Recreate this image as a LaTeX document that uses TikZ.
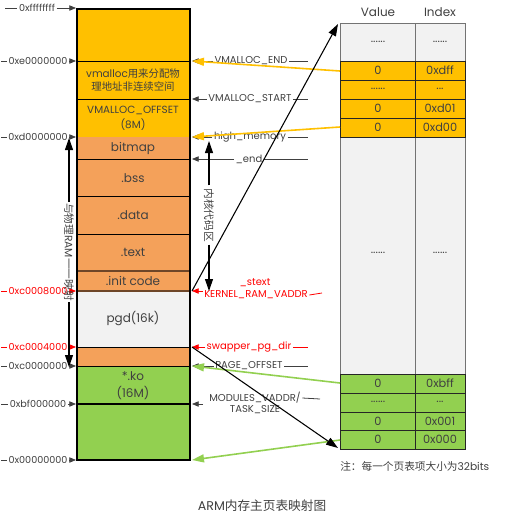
\documentclass[tikz,border=0pt]{standalone}
\usepackage{fontspec}
\setmainfont{Poppins}
\newfontfamily\cjk{Noto Sans CJK SC}
\usetikzlibrary{arrows.meta}
\definecolor{cy}{RGB}{255,192,0}
\definecolor{co}{RGB}{244,161,90}
\definecolor{cg}{RGB}{146,208,80}
\definecolor{cgr}{RGB}{242,242,242}
\definecolor{cred}{RGB}{255,0,0}
\definecolor{ctxt}{RGB}{64,64,64}
\definecolor{cbr}{RGB}{110,70,40}
\begin{document}
\begin{tikzpicture}[x=0.75pt,y=-0.75pt,
  boxlbl/.style={font=\fontsize{9}{11}\selectfont, text=ctxt, align=center, inner sep=0pt},
  boxsm/.style={boxlbl, font=\fontsize{7.8}{10}\selectfont},
  addr/.style={font=\fontsize{7.2}{8}\selectfont, text=ctxt, inner sep=1pt},
  raddr/.style={addr, text=cred},
  rl/.style={font=\fontsize{7.5}{8.5}\selectfont, text=ctxt, inner sep=1pt},
  rrl/.style={rl, text=cred},
  cell/.style={font=\fontsize{8.5}{10}\selectfont, text=ctxt, inner sep=0pt},
  sarrow/.style={-{Triangle[length=5pt,width=4pt]}, ctxt, line width=0.6pt},
  rarrow/.style={-{Triangle[length=5pt,width=4pt]}, cred, line width=0.6pt},
  barrow/.style={-{Triangle[length=9pt,width=6pt]}, black, line width=0.8pt},
  yarrow/.style={-{Triangle[length=9pt,width=6pt]}, cy, line width=1.2pt},
  garrow/.style={-{Triangle[length=9pt,width=6pt]}, cg, line width=1.2pt},
  sepl/.style={black, line width=0.6pt},
  sepb/.style={cbr, line width=0.8pt},
  tb/.style={draw=black!55, line width=0.6pt},
  tbk/.style={draw=black!85, line width=0.6pt}
]
\useasboundingbox (0,0) rectangle (522,518);

% ---------------- left memory column ----------------
\fill[cy] (77,9) rectangle (190,137);
\fill[co] (77,137) rectangle (190,291);
\fill[cgr] (77,291) rectangle (190,347);
\fill[co] (77,347) rectangle (190,366);
\fill[cg] (77,366) rectangle (190,460);
\draw[sepl] (77,61) -- (190,61);
\draw[sepl] (77,99) -- (190,99);
\draw[sepl] (77,159) -- (190,159);
\draw[sepl] (77,196) -- (190,196);
\draw[sepl] (77,234) -- (190,234);
\draw[sepb] (77,271) -- (190,271);
\draw[sepb] (77,291) -- (190,291);
\draw[sepl] (77,347) -- (190,347);
\draw[sepl] (77,366) -- (190,366);
\draw[line width=2.2pt] (77,404) -- (190,404);
\draw[line width=2.2pt] (77,9) rectangle (190,460);

\node[boxsm] (vm) at (133,80) {vmalloc{\cjk 用来分配物}\\[0pt]{\cjk 理地址非连续空间}};
\node[boxsm] (vmo) at (133,118) {VMALLOC\_OFFSET\\[1pt](8M)};
\node[boxlbl] (bm) at (133,148) {bitmap};
\node[boxlbl] (bss) at (133,178) {.bss};
\node[boxlbl] (data) at (133,215) {.data};
\node[boxlbl] (text) at (133,252) {.text};
\node[boxlbl] (init) at (133,281) {.init code};
\node[boxlbl] (pgd) at (133,319) {pgd(16k)};
\node[boxlbl] (ko) at (133,386) {*.ko\\[2pt](16M)};

% ---------------- left address labels ----------------
\coordinate (l7) at (76,8);
\coordinate (l61) at (76,61);
\coordinate (l137) at (76,137);
\coordinate (l291) at (76,291);
\coordinate (l347) at (76,347);
\coordinate (l366) at (76,366);
\coordinate (l404) at (76,404);
\coordinate (l460) at (76,460);
\coordinate (s7) at (5,8);
\coordinate (s61) at (1,61);
\coordinate (s137) at (1,137);
\coordinate (s291) at (1,291);
\coordinate (s347) at (1,347);
\coordinate (s366) at (1,366);
\coordinate (s404) at (1,404);
\coordinate (s460) at (1,460);
\node[addr] (a7) at (37,8) {0xffffffff};
\node[addr] (a61) at (38,61) {0xe0000000};
\node[addr] (a137) at (38,137) {0xd0000000};
\node[raddr] (a291) at (38,291) {0xc0008000};
\node[raddr] (a347) at (38,347) {0xc0004000};
\node[addr] (a366) at (38,366) {0xc0000000};
\node[addr] (a404) at (38,404) {0xbf000000};
\node[addr] (a460) at (38,460) {0x00000000};
\foreach \n in {7,61,137,366,404,460}{
  \draw[ctxt, line width=0.6pt] (s\n) -- (a\n.west);
  \draw[sarrow] (a\n.east) -- (l\n);
}
\foreach \n in {291,347}{
  \draw[cred, line width=0.6pt] (s\n) -- (a\n.west);
  \draw[rarrow] (a\n.east) -- (l\n);
}

% left vertical arrow
\coordinate (vt) at (69,138);
\coordinate (vb) at (69,367);
\node[font=\fontsize{8}{9}\selectfont, text=ctxt, rotate=-90, inner sep=1pt] (phys) at (69,252) {{\cjk 与物理}RAM{\cjk 一一映射}};
\draw[barrow] (phys.west) -- (vt);
\draw[barrow] (phys.east) -- (vb);

% ---------------- right labels ----------------
\coordinate (r61) at (192,61);
\coordinate (r99) at (192,99);
\coordinate (r137) at (192,137);
\coordinate (r159) at (192,159);
\coordinate (r291) at (192,291);
\coordinate (r347) at (192,347);
\coordinate (r366) at (192,366);
\coordinate (r404) at (192,404);
\node[rl] (vmend) at (251,61) {VMALLOC\_END};
\node[rl] (vmstart) at (250,99) {VMALLOC\_START};
\node[rl] (himem) at (250,137) {high\_memory};
\node[rl] (endl) at (249,159) {\_end};
\node[rrl] (stext) at (255,283) {\_stext};
\node[rrl] (krv) at (256,295) {KERNEL\_RAM\_VADDR};
\node[rrl] (swp) at (249,347) {swapper\_pg\_dir};
\node[rl] (pgoff) at (249,366) {PAGE\_OFFSET};
\node[rl] (modv) at (255,398) {MODULES\_VADDR/};
\node[rl] (tsize) at (255,410) {TASK\_SIZE};
\coordinate (e61) at (308,61);
\coordinate (e99) at (308,99);
\coordinate (e137) at (308,137);
\coordinate (e159) at (308,159);
\coordinate (e295) at (322,293);
\coordinate (e347) at (308,347);
\coordinate (e366) at (308,366);
\coordinate (e398) at (320,399);
\coordinate (s398) at (203,404);

\draw[sarrow] (vmend.west) -- (r61);
\draw[ctxt, line width=0.6pt] (vmend.east) -- (e61);
\draw[sarrow] (vmstart.west) -- (r99);
\draw[ctxt, line width=0.6pt] (vmstart.east) -- (e99);
\draw[sarrow] (himem.west) -- (r137);
\draw[ctxt, line width=0.6pt] (himem.east) -- (e137);
\draw[sarrow] (endl.west) -- (r159);
\draw[ctxt, line width=0.6pt] (endl.east) -- (e159);
\draw[rarrow] (krv.west |- r291) -- (r291);
\draw[cred, line width=0.6pt] (krv.east) -- (e295);
\draw[rarrow] (swp.west) -- (r347);
\draw[cred, line width=0.6pt] (swp.east) -- (e347);
\draw[sarrow] (pgoff.west) -- (r366);
\draw[ctxt, line width=0.6pt] (pgoff.east) -- (e366);
\draw[sarrow] (s398) -- (r404);
\draw[ctxt, line width=0.6pt] (modv.east) -- (e398);

% kernel code vertical arrow
\coordinate (kt) at (209,141);
\coordinate (kb) at (209,291);
\node[font=\fontsize{8}{9}\selectfont, text=ctxt, rotate=-90, inner sep=2pt] (kern) at (209,215) {\cjk 内核代码区};
\draw[barrow] (kern.west) -- (kt);
\draw[barrow] (kern.east) -- (kb);

% ---------------- page table ----------------
\node[font=\fontsize{9}{10}\selectfont, text=ctxt] (hv) at (378,12) {Value};
\node[font=\fontsize{9}{10}\selectfont, text=ctxt] (hi) at (440,12) {Index};
\filldraw[fill=cgr, tb] (340,23) rectangle (415,61);
\filldraw[fill=cgr, tb] (415,23) rectangle (465,61);
\filldraw[fill=cgr, tb] (340,137) rectangle (415,374);
\filldraw[fill=cgr, tb] (415,137) rectangle (465,374);
\foreach \ya/\yb in {61/80,80/99,99/118,118/137}{
  \filldraw[fill=cy, tbk] (340,\ya) rectangle (415,\yb);
  \filldraw[fill=cy, tbk] (415,\ya) rectangle (465,\yb);
}
\foreach \ya/\yb in {374/393,393/412,412/430,430/449}{
  \filldraw[fill=cg, tbk] (340,\ya) rectangle (415,\yb);
  \filldraw[fill=cg, tbk] (415,\ya) rectangle (465,\yb);
}
\node[cell] (v0) at (378,42) {......};
\node[cell] (i0) at (440,42) {......};
\node[cell] (v1) at (378,70.5) {0};
\node[cell] (i1) at (440,70.5) {0xdff};
\node[cell] (v2) at (378,89) {......};
\node[cell] (i2) at (440,89) {...};
\node[cell] (v3) at (378,108.5) {0};
\node[cell] (i3) at (440,108.5) {0xd01};
\node[cell] (v4) at (378,127.5) {0};
\node[cell] (i4) at (440,127.5) {0xd00};
\node[cell] (v5) at (378,253) {......};
\node[cell] (i5) at (440,253) {......};
\node[cell] (v6) at (378,383.5) {0};
\node[cell] (i6) at (440,383.5) {0xbff};
\node[cell] (v7) at (378,402) {......};
\node[cell] (i7) at (440,402) {...};
\node[cell] (v8) at (378,421) {0};
\node[cell] (i8) at (440,421) {0x001};
\node[cell] (v9) at (378,439.5) {0};
\node[cell] (i9) at (440,439.5) {0x000};

\coordinate (t1) at (340,71);
\coordinate (t4) at (340,127);
\coordinate (t6) at (340,383);
\coordinate (t9) at (340,440);
\coordinate (ttop) at (338,24);
\coordinate (tbot) at (338,448);
\coordinate (r460) at (192,460);

% ---------------- mapping arrows ----------------
\draw[yarrow] (t1) -- (r61);
\draw[yarrow] (t4) -- (r137);
\draw[garrow] (t6) -- (r366);
\draw[garrow] (t9) -- (r460);
\draw[barrow] (r291) -- (ttop);
\draw[barrow] (r347) -- (tbot);

% ---------------- notes ----------------
\node[font=\fontsize{8}{9}\selectfont, text=ctxt, anchor=west, inner sep=0pt] (note) at (340,466) {{\cjk 注：每一个页表项大小为}32bits};
\node[font=\fontsize{9.5}{11}\selectfont, text=ctxt] (title) at (262,506) {ARM{\cjk 内存主页表映射图}};
\end{tikzpicture}
\end{document}
